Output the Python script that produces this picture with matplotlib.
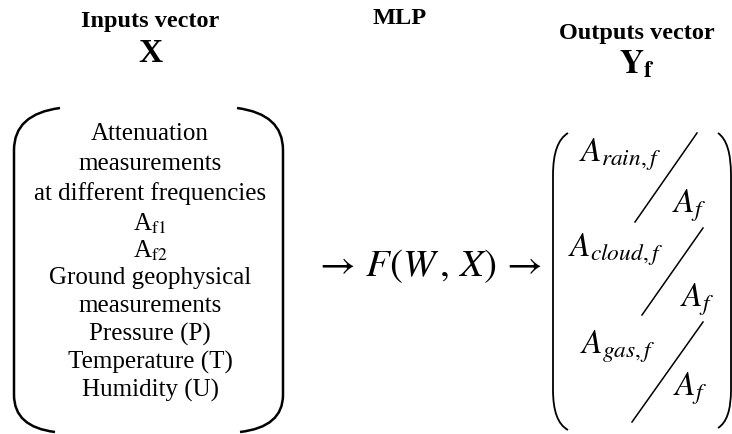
import matplotlib
matplotlib.use("Agg")
import matplotlib.pyplot as plt
from matplotlib.path import Path
from matplotlib.patches import PathPatch

plt.rcParams['font.family'] = ['Liberation Serif', 'DejaVu Serif']
plt.rcParams['mathtext.fontset'] = 'stix'

# text content of the diagram
input_lines = ['Attenuation', 'measurements', 'at different frequencies',
               r'A$_{\mathrm{f1}}$', r'A$_{\mathrm{f2}}$', 'Ground geophysical',
               'measurements', 'Pressure (P)', 'Temperature (T)', 'Humidity (U)']
input_rows = [134, 164, 194, 224, 251, 278, 306, 334, 362, 390]
output_nums = [r'$A_{rain,f}$', r'$A_{cloud,f}$', r'$A_{gas,f}$']
output_den = r'$A_f$'
mapping = r'$\rightarrow\, F(W\,,\,X)\, \rightarrow$'

fig = plt.figure(figsize=(7.32, 4.34), dpi=100)
ax = fig.add_axes([0, 0, 1, 1])
ax.set_xlim(0, 732)
ax.set_ylim(434, 0)
ax.axis('off')

# headers
ax.text(150, 21, 'Inputs vector', ha='center', va='center', fontsize=17.5, fontweight='bold')
ax.text(150, 54, 'X', ha='center', va='center', fontsize=24, fontweight='bold')
ax.text(400, 19, 'MLP', ha='center', va='center', fontsize=17.5, fontweight='bold')
ax.text(637, 34, 'Outputs vector', ha='center', va='center', fontsize=17.5, fontweight='bold')
ax.text(637, 64, r'$\mathbf{Y_f}$', ha='center', va='center', fontsize=24)

# left rounded bracket
M, C, L = Path.MOVETO, Path.CURVE3, Path.LINETO
codes = [M, C, C, L, C, C]
left = Path([(60, 108), (14, 114), (14, 150), (14, 395), (14, 427), (55, 432)], codes)
right = Path([(237, 108), (283, 114), (283, 150), (283, 395), (283, 427), (240, 432)], codes)
for p in (left, right):
    ax.add_patch(PathPatch(p, fill=False, lw=1.8, color='black'))

for txt, y in zip(input_lines, input_rows):
    ax.text(150, y, txt, ha='center', va='center', fontsize=18)

# MLP mapping
ax.text(428, 266, mapping, ha='center', va='center', fontsize=28)

# right parentheses
lp = Path([(568, 133), (553, 142), (553, 175), (553, 390), (553, 422), (568, 430)], codes)
rp = Path([(718, 133), (731, 142), (731, 175), (731, 390), (731, 420), (718, 428)], codes)
for p in (lp, rp):
    ax.add_patch(PathPatch(p, fill=False, lw=1.3, color='black'))

# fractions
num_pos = [(620, 155), (616, 250), (618, 347)]
den_pos = [(689, 206), (697, 300), (690, 389)]
slashes = [((697, 133), (635, 222)), ((703, 228), (642, 315)), ((703, 322), (632, 422))]
for num, (nx, ny), (dx, dy), (a, b) in zip(output_nums, num_pos, den_pos, slashes):
    ax.text(nx, ny, num, ha='center', va='center', fontsize=24)
    ax.text(dx, dy, output_den, ha='center', va='center', fontsize=24)
    ax.plot([a[0], b[0]], [a[1], b[1]], color='black', lw=1.1)

fig.savefig('out.png', dpi=100)
